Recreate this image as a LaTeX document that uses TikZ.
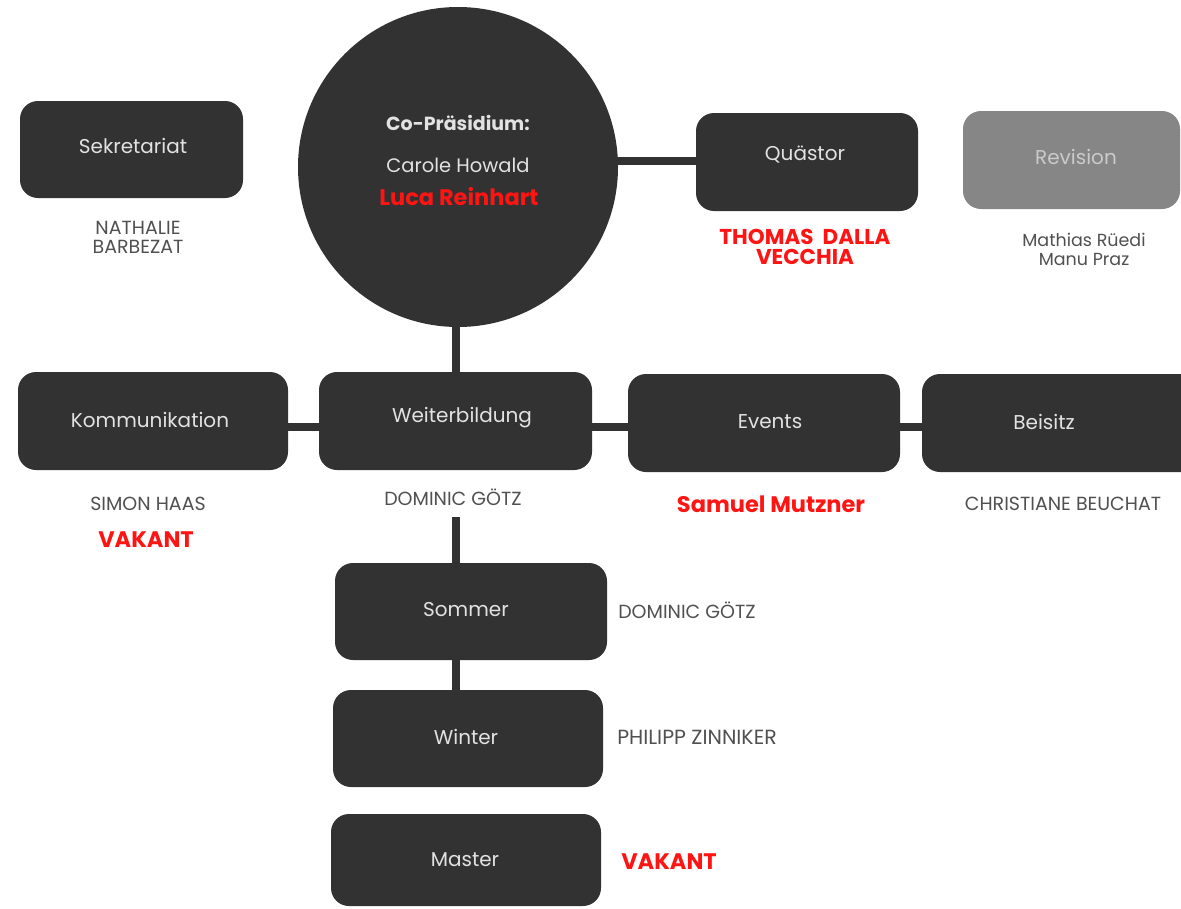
\documentclass[tikz,border=0pt]{standalone}
\usepackage{fontspec}
\setmainfont{Poppins}
\usetikzlibrary{backgrounds}
\definecolor{boxfill}{HTML}{323232}
\definecolor{boxtext}{HTML}{E2E2E2}
\definecolor{lbl}{HTML}{505050}
\definecolor{redtxt}{HTML}{FF1414}
\definecolor{revfill}{HTML}{868686}
\definecolor{revtext}{HTML}{CACACA}
\begin{document}
\begin{tikzpicture}[x=1pt,y=-1pt,
  boxfont/.style={font=\fontsize{20}{22}\selectfont},
  orgbox/.style={fill=boxfill, rounded corners=18pt, text=boxtext,
    boxfont, inner sep=0pt, anchor=center},
  revbox/.style={orgbox, fill=revfill, text=revtext},
  intext/.style={text=boxtext, boxfont, inner sep=0pt},
  namelbl/.style={text=lbl, font=\fontsize{19}{19}\selectfont, align=center, inner sep=0pt},
  redlbl/.style={text=redtxt, font=\fontsize{22.5}{22}\selectfont\bfseries, align=center, inner sep=0pt},
  conn/.style={draw=boxfill, line width=8pt}]
\useasboundingbox (0,0) rectangle (1181,908);
\clip (0,0) rectangle (1181,908);

% top row
\node[orgbox, minimum width=223pt, minimum height=97pt] (sek) at (131.5,149.5) {};
\node[intext] (sekt) at (133,146) {Sekretariat};
\node[circle, fill=boxfill, minimum size=320pt, inner sep=0pt] (praes) at (458,167) {};
\node[orgbox, minimum width=222pt, minimum height=98pt] (quaestor) at (807,162) {};
\node[intext] (quaestort) at (805,155) {Quästor};
\node[revbox, minimum width=217pt, minimum height=98pt] (revision) at (1071.5,160) {};
\node[intext, text=revtext] (revisiont) at (1076,157) {Revision};

\node[text=boxtext, font=\fontsize{19}{20}\selectfont\bfseries, inner sep=0pt] (praes1) at (458,123) {Co-Präsidium:};
\node[intext, font=\fontsize{19.5}{20}\selectfont] (praes2) at (458,165) {Carole Howald};
\node[redlbl] (praes3) at (459,197) {Luca Reinhart};

\node[namelbl] (sekname) at (138,237.5) {NATHALIE\\BARBEZAT};
\node[redlbl, font=\fontsize{21.5}{20}\selectfont\bfseries] (qname) at (805,247) {THOMAS\ \ DALLA\\VECCHIA};
\node[namelbl, font=\fontsize{17.5}{19}\selectfont] (revname) at (1084,249.5) {Mathias Rüedi\\Manu Praz};

% middle row
\node[orgbox, minimum width=270pt, minimum height=98pt] (komm) at (153,421) {};
\node[intext] (kommt) at (150,420) {Kommunikation};
\node[orgbox, minimum width=273pt, minimum height=98pt] (weiter) at (455.5,421) {};
\node[intext] (weitert) at (462,418) {Weiterbildung};
\node[orgbox, minimum width=272pt, minimum height=98pt] (events) at (764,423) {};
\node[intext] (eventst) at (770,422) {Events};
\node[orgbox, minimum width=290pt, minimum height=98pt] (beisitz) at (1067,423) {};
\node[intext] (beisitzt) at (1044,422) {Beisitz};

\node[namelbl] (kommname) at (148,504) {SIMON HAAS};
\node[redlbl] (kommvak) at (146,540) {VAKANT};
\node[namelbl] (weitername) at (453,497) {DOMINIC GÖTZ};
\node[redlbl] (eventsname) at (771,504) {Samuel Mutzner};
\node[namelbl] (beisitzname) at (1063,504) {CHRISTIANE BEUCHAT};

% lower column
\coordinate (wstart) at (456,517);
\node[orgbox, minimum width=272pt, minimum height=97pt] (sommer) at (471,611.5) {};
\node[intext] (sommert) at (466,610) {Sommer};
\node[orgbox, minimum width=270pt, minimum height=97pt] (winter) at (468,738.5) {};
\node[intext] (wintert) at (466,737) {Winter};
\node[orgbox, minimum width=270pt, minimum height=92pt] (master) at (466,860) {};
\node[intext] (mastert) at (465,860) {Master};

\node[namelbl] (sommername) at (687,610) {DOMINIC GÖTZ};
\node[namelbl, font=\fontsize{20.5}{19}\selectfont] (wintername) at (697,737) {PHILIPP ZINNIKER};
\node[redlbl] (mastername) at (669,862) {VAKANT};

\begin{scope}[on background layer]
  \draw[conn] ([yshift=1pt]praes.center |- quaestor.west) -- ([yshift=1pt]quaestor.west);
  \draw[conn] (praes.south -| wstart) -- (weiter.north -| wstart);
  \draw[conn] ([yshift=-6pt]komm.east) -- ([yshift=-6pt]komm.east -| weiter.west);
  \draw[conn] ([yshift=-6pt]weiter.east) -- ([yshift=-6pt]weiter.east -| events.west);
  \draw[conn] ([yshift=-4pt]events.east) -- ([yshift=-4pt]events.east -| beisitz.west);
  \draw[conn] (wstart) -- (sommer.north -| wstart);
  \draw[conn] (sommer.south -| wstart) -- (winter.north -| wstart);
\end{scope}
\end{tikzpicture}
\end{document}
